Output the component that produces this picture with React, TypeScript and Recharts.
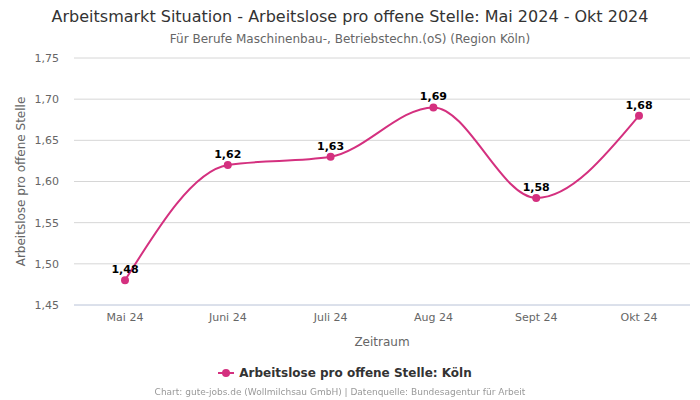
import { LineChart, Line, XAxis, YAxis, CartesianGrid, Legend, LabelList } from 'recharts';

const months = ['Mai 24', 'Juni 24', 'Juli 24', 'Aug 24', 'Sept 24', 'Okt 24'];
const koeln = [1.48, 1.62, 1.63, 1.69, 1.58, 1.68];
const yTicks = [1.45, 1.5, 1.55, 1.6, 1.65, 1.7, 1.75];

const SERIES_NAME = 'Arbeitslose pro offene Stelle: Köln';
const COLOR = '#d4307f';
const FONT = '"DejaVu Sans", sans-serif';

const data = months.map((m, i) => ({ month: m, value: koeln[i] }));

const fmt = (v: number) => v.toFixed(2).replace('.', ',');

function LegendContent() {
    return (
        <div style={{ display: 'flex', justifyContent: 'center', alignItems: 'center', height: 26, fontFamily: FONT }}>
            <svg width={16} height={10} style={{ marginRight: 5 }}>
                <line x1={0} y1={5} x2={16} y2={5} stroke={COLOR} strokeWidth={2} />
                <circle cx={8} cy={5} r={4} fill={COLOR} />
            </svg>
            <span style={{ fontSize: 12, fontWeight: 'bold', color: '#333' }}>{SERIES_NAME}</span>
        </div>
    );
}

export default function App() {
    return (
        <div style={{ position: 'fixed', left: 0, top: 0, width: 700, height: 400, background: '#fff', fontFamily: FONT }}>
            <div style={{ position: 'absolute', top: 7, width: 700, textAlign: 'center', fontSize: 16, color: '#333' }}>
                Arbeitsmarkt Situation - Arbeitslose pro offene Stelle: Mai 2024 - Okt 2024
            </div>
            <div style={{ position: 'absolute', top: 32, width: 700, textAlign: 'center', fontSize: 12, color: '#666' }}>
                Für Berufe Maschinenbau-, Betriebstechn.(oS) (Region Köln)
            </div>

            <LineChart width={700} height={400} data={data} margin={{ top: 58, right: 10, left: 0, bottom: 0 }}
                style={{ fontFamily: FONT }}>
                <CartesianGrid vertical={false} stroke="#d6d6d6" />
                <XAxis
                    dataKey="month"
                    height={55}
                    padding={{ left: 51, right: 51 }}
                    axisLine={{ stroke: '#ccd6eb' }}
                    tickLine={false}
                    tick={{ fill: '#666', fontSize: 11 }}
                    label={{ value: 'Zeitraum', position: 'insideBottom', offset: 14, fill: '#666', fontSize: 12 }}
                />
                <YAxis
                    width={74}
                    domain={[1.45, 1.75]}
                    ticks={yTicks}
                    tickFormatter={fmt}
                    axisLine={false}
                    tickLine={false}
                    tickMargin={9}
                    tick={{ fill: '#666', fontSize: 11 }}
                    label={{ value: 'Arbeitslose pro offene Stelle', angle: -90, position: 'insideLeft', offset: 21, fill: '#666', fontSize: 12, style: { textAnchor: 'middle' } }}
                />
                <Legend verticalAlign="bottom" height={40} content={LegendContent} />
                <Line
                    type="monotone"
                    dataKey="value"
                    name={SERIES_NAME}
                    stroke={COLOR}
                    strokeWidth={2}
                    dot={{ r: 4, fill: COLOR, stroke: COLOR, strokeWidth: 0 }}
                    activeDot={false}
                    isAnimationActive={false}
                >
                    <LabelList dataKey="value" position="top" offset={7} formatter={(v: any) => fmt(Number(v))}
                        style={{ fontSize: 11, fontWeight: 'bold', fill: '#000' }} />
                </Line>
            </LineChart>

            <div style={{ position: 'absolute', top: 387, left: -10, width: 700, textAlign: 'center', fontSize: 9, color: '#999' }}>
                Chart: gute-jobs.de (Wollmilchsau GmbH) | Datenquelle: Bundesagentur für Arbeit
            </div>
        </div>
    );
}
